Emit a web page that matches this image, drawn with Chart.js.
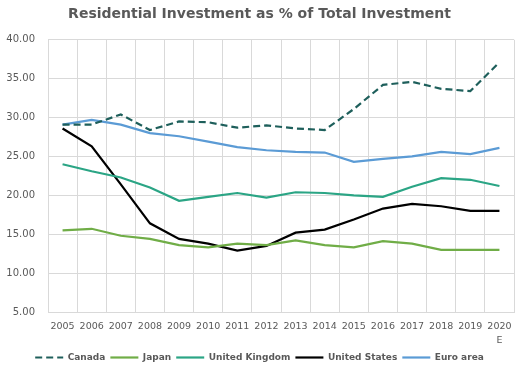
<!DOCTYPE html>
<html>
<head>
<meta charset="utf-8">
<script src="https://cdn.jsdelivr.net/npm/chart.js@4"></script>
<style>
  html, body { margin: 0; padding: 0; background: #fff; }
</style>
</head>
<body>
<canvas id="chart" width="528" height="376"></canvas>
<script>
const years = ['2005', '2006', '2007', '2008', '2009', '2010', '2011', '2012',
    '2013', '2014', '2015', '2016', '2017', '2018', '2019', ['2020', 'E']];

const canada = [29.1, 29.1, 30.4, 28.4, 29.5, 29.4, 28.7, 29.0, 28.6, 28.4, 31.1, 34.2, 34.6, 33.7, 33.4, 37.1];
const japan = [15.5, 15.7, 14.8, 14.4, 13.6, 13.3, 13.8, 13.6, 14.2, 13.6, 13.3, 14.1, 13.8, 13.0, 13.0, 13.0];
const uk = [24.0, 23.1, 22.3, 21.0, 19.3, 19.8, 20.3, 19.7, 20.4, 20.3, 20.0, 19.8, 21.1, 22.2, 22.0, 21.2];
const us = [28.6, 26.3, 21.4, 16.4, 14.4, 13.8, 12.9, 13.5, 15.2, 15.6, 16.9, 18.3, 18.9, 18.6, 18.0, 18.0];
const euro = [29.1, 29.7, 29.1, 28.0, 27.6, 26.9, 26.2, 25.8, 25.6, 25.5, 24.3, 24.7, 25.0, 25.6, 25.3, 26.1];

const gray = '#595959';

function line(label, data, color, dash) {
    return {
        label: label,
        data: data,
        borderColor: color,
        backgroundColor: color,
        borderWidth: 2.2,
        borderDash: dash || [],
        pointRadius: 0,
        tension: 0,
        pointStyle: 'line'
    };
}

const ctx = document.getElementById('chart').getContext('2d');
new Chart(ctx, {
    type: 'line',
    data: {
        labels: years,
        datasets: [
            line('Canada', canada, '#1E5F5B', [7, 4]),
            line('Japan', japan, '#70AD47'),
            line('United Kingdom', uk, '#2BA585'),
            line('United States', us, '#000000'),
            line('Euro area', euro, '#5B9BD5')
        ]
    },
    options: {
        responsive: false,
        animation: false,
        layout: { padding: { left: 5, right: 14, top: 4, bottom: 4 } },
        plugins: {
            title: {
                display: true,
                text: 'Residential Investment as % of Total Investment',
                color: gray,
                font: { family: 'DejaVu Sans', size: 14, weight: 'bold' },
                padding: { top: 2, bottom: 17 }
            },
            legend: {
                position: 'bottom',
                labels: {
                    usePointStyle: true,
                    pointStyleWidth: 28,
                    boxWidth: 28,
                    boxHeight: 2,
                    padding: 5,
                    color: gray,
                    font: { family: 'DejaVu Sans', size: 9, weight: 'bold' },
                    // пунктир у Канады в легенде иначе теряется
                    generateLabels: function (chart) {
                        const items = Chart.defaults.plugins.legend.labels.generateLabels(chart);
                        items.forEach(item => {
                            const ds = chart.data.datasets[item.datasetIndex];
                            item.lineDash = ds.borderDash;
                            item.lineWidth = 2.2;
                            item.strokeStyle = ds.borderColor;
                        });
                        return items;
                    }
                }
            },
            tooltip: { enabled: false }
        },
        scales: {
            x: {
                offset: true,
                grid: { color: '#D9D9D9', offset: true, drawTicks: false },
                border: { color: '#D9D9D9' },
                afterFit: function (scale) { scale.height = 36; },
                ticks: {
                    color: gray,
                    padding: 7,
                    maxRotation: 0,
                    autoSkip: false,
                    font: { family: 'DejaVu Sans', size: 9.5, lineHeight: 1.5 }
                }
            },
            y: {
                min: 5,
                max: 40,
                grid: { color: '#D9D9D9', drawTicks: false },
                border: { display: false },
                afterFit: function (scale) { scale.width = 43; },
                ticks: {
                    stepSize: 5,
                    color: gray,
                    padding: 13,
                    font: { family: 'DejaVu Sans', size: 10 },
                    callback: v => v.toFixed(2)
                }
            }
        }
    }
});
</script>
</body>
</html>
